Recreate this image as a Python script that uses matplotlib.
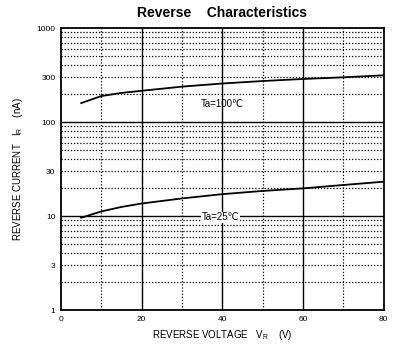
import matplotlib
matplotlib.use('Agg')
import matplotlib.pyplot as plt
from matplotlib.ticker import FixedLocator, NullFormatter

plt.rcParams['font.family'] = ['Liberation Sans', 'DejaVu Sans']

# 曲线数据
v_100 = [5, 10, 15, 20, 30, 40, 50, 60, 70, 80]
ir_100 = [159, 189, 204, 215, 238, 257, 273, 287, 299, 314]
v_25 = [5, 10, 15, 20, 30, 40, 50, 60, 70, 80]
ir_25 = [9.6, 11.2, 12.5, 13.6, 15.4, 17.1, 18.5, 19.7, 21.4, 23.2]

x_ticks = [0, 20, 40, 60, 80]
y_ticks = [1, 3, 10, 30, 100, 300, 1000]
y_tick_labels = ['1', '3', '10', '30', '100', '300', '1000']

fig = plt.figure(figsize=(4.04, 3.48), dpi=100)
ax = fig.add_axes([0.151, 0.109, 0.799, 0.8105])

ax.set_yscale('log')
ax.set_xlim(0, 80)
ax.set_ylim(1, 1000)

# 网格：主线实线，次线点线
dot = (0, (1, 1.5))
for x in [20, 40, 60]:
    ax.axvline(x, color='black', lw=1.0, zorder=1)
for x in [10, 30, 50, 70]:
    ax.axvline(x, color='black', lw=0.9, ls=dot, zorder=1)
for y in [10, 100]:
    ax.axhline(y, color='black', lw=1.0, zorder=1)
for dec in [1, 10, 100]:
    for m in range(2, 10):
        ax.axhline(dec * m, color='black', lw=0.9, ls=dot, zorder=1)

ax.plot(v_100, ir_100, color='black', lw=1.3, zorder=3)
ax.plot(v_25, ir_25, color='black', lw=1.3, zorder=3)

ax.text(40, 155, 'Ta=100\u2103', ha='center', va='center', fontsize=7, zorder=4)
ax.text(39.5, 9.7, 'Ta=25\u2103', ha='center', va='center', fontsize=7, zorder=4,
        bbox=dict(facecolor='white', edgecolor='none', pad=0.5))

ax.xaxis.set_major_locator(FixedLocator(x_ticks))
ax.yaxis.set_major_locator(FixedLocator(y_ticks))
ax.set_yticklabels(y_tick_labels)
ax.yaxis.set_minor_formatter(NullFormatter())
ax.tick_params(which='both', length=0, labelsize=6, pad=4)

for s in ax.spines.values():
    s.set_linewidth(1.3)

ax.set_xlabel('REVERSE VOLTAGE   V$_\\mathregular{R}$    (V)', fontsize=7, labelpad=4)
ax.set_ylabel('REVERSE CURRENT   I$_\\mathregular{R}$    (nA)', fontsize=7, labelpad=8)
ax.set_title('Reverse    Characteristics', fontsize=10, fontweight='bold', pad=8)

fig.savefig('out.png', dpi=100)
